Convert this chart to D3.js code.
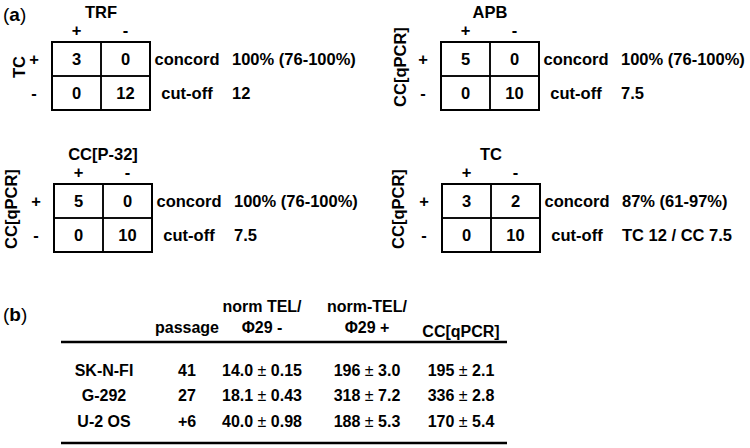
<!DOCTYPE html>
<html lang="en">
<head>
<meta charset="UTF-8">
<title>Concordance of telomere assays</title>
<script src="https://d3js.org/d3.v7.min.js"></script>
<style>
    body { margin: 0; padding: 0; background: #fff; }
    svg { display: block; }
    text { font-family: "Liberation Sans", Arial, sans-serif; font-weight: bold; fill: #000; }
    .mtx { font-size: 16.5px; }
    .tbl { font-size: 16px; }
    .tag { font-size: 19px; }
    .pm { font-weight: normal; }
</style>
</head>
<body>
<div id="chart"></div>
<script>
    // (a) 2x2 concordance tables
    const panelTitles = ["TRF", "APB", "CC[P-32]", "TC"];
    const panelRowLabels = ["TC", "CC[qPCR]", "CC[qPCR]", "CC[qPCR]"];
    const signs = ["+", "-"];
    // counts in order: [++, +-, -+, --]
    const panelCounts = [[3, 0, 0, 12], [5, 0, 0, 10], [5, 0, 0, 10], [3, 2, 0, 10]];
    const concordValues = ["100% (76-100%)", "100% (76-100%)", "100% (76-100%)", "87% (61-97%)"];
    const cutoffValues = ["12", "7.5", "7.5", "TC 12 / CC 7.5"];

    // (b) table
    const cellLines = ["SK-N-FI", "G-292", "U-2 OS"];
    const passages = ["41", "27", "+6"];
    const normTelMinusMean = [14.0, 18.1, 40.0];
    const normTelMinusSd = [0.15, 0.43, 0.98];
    const normTelPlusMean = [196, 318, 188];
    const normTelPlusSd = [3.0, 7.2, 5.3];
    const ccQpcrMean = [195, 336, 170];
    const ccQpcrSd = [2.1, 2.8, 5.4];

    const W = 750, H = 448;
    const svg = d3.select("#chart").append("svg").attr("width", W).attr("height", H);

    svg.append("text").attr("class", "tag").attr("x", 3).attr("y", 21)
       .html('<tspan class="pm">(</tspan>a<tspan class="pm">)</tspan>');
    svg.append("text").attr("class", "tag").attr("x", 3).attr("y", 321)
       .html('<tspan class="pm">(</tspan>b<tspan class="pm">)</tspan>');

    // panel placement: box left/top and x of the rotated row title
    const panelPos = [
        { x: 52, y: 42, lx: 19 },
        { x: 441, y: 42, lx: 400 },
        { x: 54, y: 184, lx: 11 },
        { x: 442, y: 184, lx: 398 }
    ];
    const cellW = 49, cellH = 34;

    panelTitles.forEach((title, i) => {
        const p = panelPos[i];
        const g = svg.append("g").attr("class", "mtx").attr("transform", `translate(${p.x},${p.y})`);
        const x = d3.scaleBand().domain(signs).range([0, 2 * cellW]);
        const y = d3.scaleBand().domain(signs).range([0, 2 * cellH]);

        const cells = [];
        signs.forEach((r, ri) => signs.forEach((c, ci) => cells.push({ r, c, v: panelCounts[i][ri * 2 + ci] })));

        g.selectAll("rect.cell").data(cells).enter().append("rect")
         .attr("class", "cell")
         .attr("x", d => x(d.c)).attr("y", d => y(d.r))
         .attr("width", x.bandwidth()).attr("height", y.bandwidth())
         .attr("fill", "none").attr("stroke", "#000").attr("stroke-width", 1.5);
        g.append("rect").attr("width", 2 * cellW).attr("height", 2 * cellH)
         .attr("fill", "none").attr("stroke", "#000").attr("stroke-width", 2);

        g.selectAll("text.val").data(cells).enter().append("text")
         .attr("class", "val")
         .attr("x", d => x(d.c) + x.bandwidth() / 2)
         .attr("y", d => y(d.r) + y.bandwidth() / 2)
         .attr("dy", "0.36em").attr("text-anchor", "middle")
         .text(d => d.v);

        // column header
        g.append("text").attr("x", cellW).attr("y", -24).attr("text-anchor", "middle").text(title);
        g.selectAll("text.colh").data(signs).enter().append("text")
         .attr("class", "colh")
         .attr("x", d => x(d) + x.bandwidth() / 2).attr("y", -6)
         .attr("text-anchor", "middle").text(d => d);
        // row header
        g.selectAll("text.rowh").data(signs).enter().append("text")
         .attr("class", "rowh")
         .attr("x", -18).attr("y", d => y(d) + y.bandwidth() / 2)
         .attr("dy", "0.36em").attr("text-anchor", "middle").text(d => d);
        g.append("text")
         .attr("transform", `translate(${p.lx - p.x},${cellH - 9}) rotate(-90)`)
         .attr("dy", "0.36em").attr("text-anchor", "middle")
         .text(panelRowLabels[i]);

        // concordance / cut-off notes
        const bw = 2 * cellW;
        g.append("text").attr("x", bw + 37).attr("y", y("+") + cellH / 2).attr("dy", "0.36em")
         .attr("text-anchor", "middle").text("concord");
        g.append("text").attr("x", bw + 37).attr("y", y("-") + cellH / 2).attr("dy", "0.36em")
         .attr("text-anchor", "middle").text("cut-off");
        g.append("text").attr("x", bw + 82).attr("y", y("+") + cellH / 2).attr("dy", "0.36em")
         .text(concordValues[i]);
        g.append("text").attr("x", bw + 82).attr("y", y("-") + cellH / 2).attr("dy", "0.36em")
         .text(cutoffValues[i]);
    });

    // ---- table (b) ----
    const tbl = svg.append("g").attr("class", "tbl");
    const colX = d3.scalePoint().domain(["line", "passage", "minus", "plus", "cc"]).range([104, 461]);
    // manual column centres (uneven spacing)
    const colCentre = { line: 104, passage: 187, minus: 262, plus: 367, cc: 461 };
    const rowY = d3.scalePoint().domain(cellLines).range([370, 421]);

    const headers = [
        { key: "passage", lines: ["passage"] },
        { key: "minus", lines: ["norm TEL/", "\u03A629 -"] },
        { key: "plus", lines: ["norm-TEL/", "\u03A629 +"] },
        { key: "cc", lines: ["CC[qPCR]"] }
    ];
    headers.forEach(h => {
        const n = h.lines.length;
        h.lines.forEach((ln, k) => {
            tbl.append("text").attr("x", colCentre[h.key])
               .attr("y", (h.key === "cc" ? 337 : 333) - (n - 1 - k) * 21)
               .attr("text-anchor", "middle").text(ln);
        });
    });

    tbl.append("line").attr("x1", 61).attr("x2", 507).attr("y1", 342).attr("y2", 342)
       .attr("stroke", "#000").attr("stroke-width", 2.5);
    tbl.append("line").attr("x1", 61).attr("x2", 507).attr("y1", 443).attr("y2", 443)
       .attr("stroke", "#000").attr("stroke-width", 2.5);

    const f1 = d3.format(".1f"), f2 = d3.format(".2f"), f0 = d3.format("d");
    function pmText(sel, col, mean, sd) {
        sel.append("text").attr("x", colCentre[col]).attr("y", (d, i) => rowY(d))
           .attr("dy", "0.36em").attr("text-anchor", "middle")
           .html((d, i) => `${mean[i]}<tspan class="pm"> \u00B1 </tspan>${sd[i]}`);
    }
    const rows = tbl.selectAll("g.row").data(cellLines).enter().append("g").attr("class", "row");
    rows.append("text").attr("x", colCentre.line).attr("y", d => rowY(d)).attr("dy", "0.36em")
        .attr("text-anchor", "middle").text(d => d);
    rows.append("text").attr("x", colCentre.passage).attr("y", d => rowY(d)).attr("dy", "0.36em")
        .attr("text-anchor", "middle").text((d, i) => passages[i]);
    pmText(rows, "minus", normTelMinusMean.map(f1), normTelMinusSd.map(f2));
    pmText(rows, "plus", normTelPlusMean.map(f0), normTelPlusSd.map(f1));
    pmText(rows, "cc", ccQpcrMean.map(f0), ccQpcrSd.map(f1));
</script>
</body>
</html>
